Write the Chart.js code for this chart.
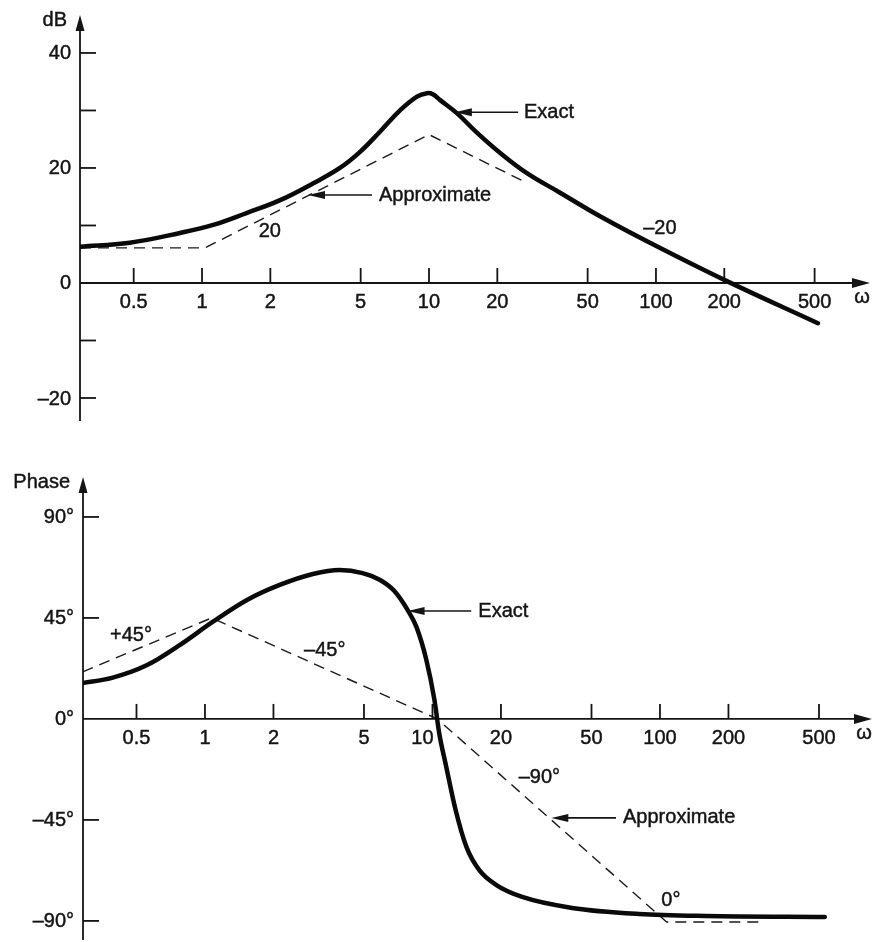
<!DOCTYPE html>
<html>
<head>
<meta charset="utf-8">
<script src="https://cdn.jsdelivr.net/npm/chart.js@4"></script>
<style>
  body { margin: 0; background: #fff; }
  canvas { position: absolute; left: 0; }
  #magChart { top: 0; }
  #phaseChart { top: 440px; }
</style>
</head>
<body>
<canvas id="magChart" width="873" height="440"></canvas>
<canvas id="phaseChart" width="873" height="502"></canvas>
<script>
// values (omega in rad/s)
var magW       = [0.29, 0.48, 0.8, 1.12, 1.58, 2.21, 3.08, 4.05, 4.97, 6.08, 7.45, 8.85, 9.8, 10.4, 11.2, 13.3, 16.3, 20.6, 27, 37.8, 56.7, 94, 201, 517];
var magExact   = [6.3, 7.0, 8.7, 10.1, 12.2, 14.4, 17.3, 20.0, 22.8, 26.3, 30.0, 32.4, 33.0, 32.8, 31.8, 29.5, 26.1, 22.6, 19.1, 15.7, 11.6, 7.0, 0.5, -7.0];
var magApproxW = [0.29, 1.03, 10, 27];
var magApprox  = [6.1, 6.1, 25.8, 17.4];

var phaseW       = [0.29, 0.39, 0.557, 0.777, 1.08, 1.53, 2.13, 2.98, 3.91, 4.93, 5.86, 6.8, 7.77, 8.5, 9.4, 10.2, 10.7, 11.5, 12.6, 14.1, 16.1, 19.1, 24.8, 41.1, 80.9, 159, 530];
var phaseExact   = [16, 18.3, 24, 33, 43.2, 53, 59.7, 64.6, 66.4, 65, 62, 57, 48.6, 41, 26.3, 8.5, -6.2, -21.4, -40, -57, -67.5, -74, -79.3, -84.2, -86.9, -87.8, -88.2];
var phaseApproxW = [0.29, 1.07, 10.5, 107, 272];
var phaseApprox  = [21, 45, 0, -90.5, -90.5];

var freqTicks  = [0.5, 1, 2, 5, 10, 20, 50, 100, 200, 500];
var freqLabels = ['0.5', '1', '2', '5', '10', '20', '50', '100', '200', '500'];
var dbTicks    = [40, 30, 20, 10, 0, -10, -20];
var dbLabels   = ['40', '', '20', '', '0', '', '\u201320'];
var degTicks   = [90, 45, 0, -45, -90];
var degLabels  = ['90°', '45°', '0°', '\u201345°', '\u201390°'];

var FONT = '20px "Liberation Sans", Arial, sans-serif';
var INK = '#141414';

function pts(xs, ys) {
  return xs.map(function (x, i) { return { x: x, y: ys[i] }; });
}

function text(ctx, s, x, y) {
  ctx.fillText(s, x, y);
  ctx.strokeText(s, x, y);
}

function arrowHead(ctx, tx, ty, dx, dy, len, half) {
  // dx,dy = unit direction the arrow points to
  var bx = tx - dx * len, by = ty - dy * len;
  ctx.beginPath();
  ctx.moveTo(tx, ty);
  ctx.lineTo(bx - dy * half, by + dx * half);
  ctx.lineTo(bx + dy * half, by - dx * half);
  ctx.closePath();
  ctx.fill();
}

var bodeAxes = {
  id: 'bodeAxes',
  beforeDatasetsDraw: function (chart, args, o) {
    var ctx = chart.ctx, a = chart.chartArea, x = chart.scales.x, y = chart.scales.y;
    var y0 = y.getPixelForValue(0);
    ctx.save();
    ctx.strokeStyle = INK;
    ctx.fillStyle = INK;
    ctx.lineWidth = 1.8;
    // vertical axis with arrow
    ctx.beginPath();
    ctx.moveTo(a.left, a.bottom);
    ctx.lineTo(a.left, a.top + 8);
    ctx.stroke();
    arrowHead(ctx, a.left, a.top, 0, -1, 16, 4.5);
    // horizontal axis with arrow
    ctx.beginPath();
    ctx.moveTo(a.left, y0);
    ctx.lineTo(a.right - 8, y0);
    ctx.stroke();
    arrowHead(ctx, a.right, y0, 1, 0, 18, 5);

    // frequency ticks
    freqTicks.forEach(function (t) {
      var px = x.getPixelForValue(t);
      ctx.beginPath();
      ctx.moveTo(px, y0);
      ctx.lineTo(px, y0 - 15);
      ctx.stroke();
    });
    o.yTicks.forEach(function (v) {
      if (v === 0) return;
      var py = y.getPixelForValue(v);
      ctx.beginPath();
      ctx.moveTo(a.left, py);
      ctx.lineTo(a.left + 16, py);
      ctx.stroke();
    });

    ctx.font = FONT;
    ctx.lineWidth = 0.45;
    ctx.textAlign = 'center';
    ctx.textBaseline = 'middle';
    freqTicks.forEach(function (t, i) {
      var nudge = (o.labelNudge && o.labelNudge[t]) || 0;
      text(ctx, freqLabels[i], x.getPixelForValue(t) + nudge, y0 + 20);
    });
    text(ctx, '\u03c9', a.right - 8, y0 + 15);
    ctx.textAlign = 'right';
    o.yTicks.forEach(function (v, i) {
      if (o.yLabels[i]) text(ctx, o.yLabels[i], a.left - 9, y.getPixelForValue(v) + 1);
    });
    text(ctx, o.yTitle, a.left - 13, a.top + 5);
    ctx.restore();
  },
  afterDatasetsDraw: function (chart, args, o) {
    var ctx = chart.ctx, x = chart.scales.x, y = chart.scales.y;
    ctx.save();
    ctx.strokeStyle = INK;
    ctx.fillStyle = INK;
    ctx.lineWidth = 1.6;
    o.arrows.forEach(function (ar) {
      var fx = x.getPixelForValue(ar.from[0]), fy = y.getPixelForValue(ar.from[1]);
      var tx = x.getPixelForValue(ar.to[0]), ty = y.getPixelForValue(ar.to[1]);
      var d = Math.hypot(tx - fx, ty - fy);
      var ux = (tx - fx) / d, uy = (ty - fy) / d;
      ctx.beginPath();
      ctx.moveTo(fx, fy);
      ctx.lineTo(tx - ux * 10, ty - uy * 10);
      ctx.stroke();
      arrowHead(ctx, tx, ty, ux, uy, 17, 4);
    });
    ctx.font = FONT;
    ctx.lineWidth = 0.45;
    ctx.textBaseline = 'middle';
    o.notes.forEach(function (n) {
      ctx.textAlign = n.align;
      text(ctx, n.text, x.getPixelForValue(n.w), y.getPixelForValue(n.v));
    });
    ctx.restore();
  }
};

function bode(id, exact, approx, xr, yr, pad, smooth, axisOpts) {
  var exactSet = {
    data: exact,
    showLine: true,
    borderColor: '#0a0a0a',
    borderWidth: 4.5,
    pointRadius: 0,
    borderCapStyle: 'round',
    borderJoinStyle: 'round'
  };
  if (smooth === 'monotone') exactSet.cubicInterpolationMode = 'monotone';
  else exactSet.tension = smooth;
  return new Chart(document.getElementById(id), {
    type: 'scatter',
    data: {
      datasets: [exactSet, {
        data: approx,
        showLine: true,
        borderColor: '#1a1a1a',
        borderWidth: 1.4,
        borderDash: [11, 7],
        pointRadius: 0,
        tension: 0
      }]
    },
    options: {
      responsive: false,
      animation: false,
      layout: { padding: pad },
      plugins: {
        legend: { display: false },
        tooltip: { enabled: false },
        bodeAxes: axisOpts
      },
      scales: {
        x: { type: 'logarithmic', min: xr[0], max: xr[1], display: false },
        y: { type: 'linear', min: yr[0], max: yr[1], display: false }
      }
    },
    plugins: [bodeAxes]
  });
}

bode('magChart', pts(magW, magExact), pts(magApproxW, magApprox),
  [0.29, 877], [-24.0, 46.6], { left: 80, right: 3, top: 15, bottom: 19 }, 0.4, {
    yTicks: dbTicks, yLabels: dbLabels, yTitle: 'dB',
    notes: [
      { text: 'Exact', w: 26.2, v: 29.7, align: 'left' },
      { text: 'Approximate', w: 6.02, v: 15.3, align: 'left' },
      { text: '20', w: 1.99, v: 8.9, align: 'center' },
      { text: '\u201320', w: 104, v: 9.4, align: 'center' }
    ],
    arrows: [
      { from: [24.7, 29.7], to: [13.0, 29.7] },
      { from: [5.61, 15.3], to: [2.93, 15.3] }
    ]
  });

bode('phaseChart', pts(phaseW, phaseExact), pts(phaseApproxW, phaseApprox),
  [0.291, 855], [-98.5, 107.8], { left: 83, right: 1, top: 37, bottom: 2 }, 'monotone', {
    yTicks: degTicks, yLabels: degLabels, yTitle: 'Phase',
    labelNudge: { 10: -10 },
    notes: [
      { text: 'Exact', w: 15.9, v: 48.1, align: 'left' },
      { text: '+45°', w: 0.473, v: 37.4, align: 'center' },
      { text: '\u201345°', w: 3.36, v: 30.7, align: 'center' },
      { text: '\u201390°', w: 29.5, v: -26.3, align: 'center' },
      { text: 'Approximate', w: 68.8, v: -44.1, align: 'left' },
      { text: '0°', w: 111.7, v: -80.7, align: 'center' }
    ],
    arrows: [
      { from: [14.8, 48.1], to: [7.77, 48.1] },
      { from: [64.1, -44.1], to: [33.3, -44.1] }
    ]
  });
</script>
</body>
</html>
